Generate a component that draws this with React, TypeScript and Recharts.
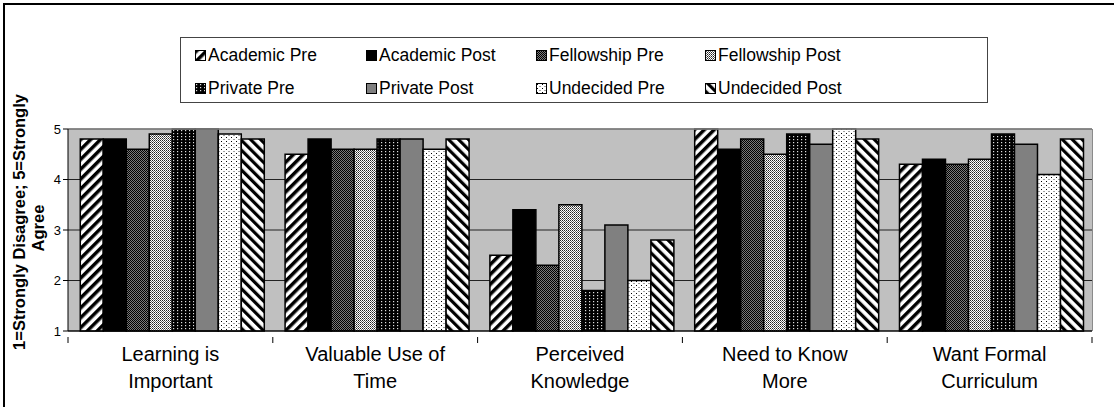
import React from "react";
import {
  BarChart,
  Bar,
  XAxis,
  YAxis,
  CartesianGrid,
  ReferenceLine,
} from "recharts";

const categories = [
  "Learning is|Important",
  "Valuable Use of|Time",
  "Perceived|Knowledge",
  "Need to Know|More",
  "Want Formal|Curriculum",
];
const seriesNames = [
  "Academic Pre",
  "Academic Post",
  "Fellowship Pre",
  "Fellowship Post",
  "Private Pre",
  "Private Post",
  "Undecided Pre",
  "Undecided Post",
];
const academicPre = [4.8, 4.5, 2.5, 5.0, 4.3];
const academicPost = [4.8, 4.8, 3.4, 4.6, 4.4];
const fellowshipPre = [4.6, 4.6, 2.3, 4.8, 4.3];
const fellowshipPost = [4.9, 4.6, 3.5, 4.5, 4.4];
const privatePre = [5.0, 4.8, 1.8, 4.9, 4.9];
const privatePost = [5.0, 4.8, 3.1, 4.7, 4.7];
const undecidedPre = [4.9, 4.6, 2.0, 5.0, 4.1];
const undecidedPost = [4.8, 4.8, 2.8, 4.8, 4.8];
const yTicks = [1, 2, 3, 4, 5];

const seriesValues = [
  academicPre,
  academicPost,
  fellowshipPre,
  fellowshipPost,
  privatePre,
  privatePost,
  undecidedPre,
  undecidedPost,
];
const keys = ["s0", "s1", "s2", "s3", "s4", "s5", "s6", "s7"];
const fills = [
  "url(#pHatchFwd)",
  "#000000",
  "url(#pDarkCheck)",
  "url(#pLightCheck)",
  "url(#pBlackDots)",
  "#808080",
  "url(#pWhiteDots)",
  "url(#pHatchBack)",
];

const data = categories.map((c, i) => {
  const row: Record<string, any> = { name: c };
  keys.forEach((k, j) => {
    row[k] = seriesValues[j][i];
  });
  return row;
});

const FONT = "'Liberation Sans', Arial, sans-serif";

const Patterns = () => (
  <defs>
    <pattern id="pHatchFwd" width="7" height="7" patternUnits="userSpaceOnUse" patternTransform="rotate(45)">
      <rect width="7" height="7" fill="#fff" />
      <rect width="3.5" height="7" fill="#000" />
    </pattern>
    <pattern id="pHatchBack" width="7" height="7" patternUnits="userSpaceOnUse" patternTransform="rotate(-45)">
      <rect width="7" height="7" fill="#fff" />
      <rect width="3.2" height="7" fill="#000" />
    </pattern>
    <pattern id="pDarkCheck" width="2" height="2" patternUnits="userSpaceOnUse">
      <rect width="2" height="2" fill="#7a7a7a" />
      <rect x="0" y="0" width="1" height="1" fill="#000" />
      <rect x="1" y="1" width="1" height="1" fill="#000" />
    </pattern>
    <pattern id="pLightCheck" width="2" height="2" patternUnits="userSpaceOnUse">
      <rect width="2" height="2" fill="#ffffff" />
      <rect x="0" y="0" width="1" height="1" fill="#222" />
      <rect x="1" y="1" width="1" height="1" fill="#666" />
    </pattern>
    <pattern id="pBlackDots" width="4" height="3" patternUnits="userSpaceOnUse">
      <rect width="4" height="3" fill="#000" />
      <rect x="1" y="1" width="1.2" height="1.2" fill="#ddd" />
    </pattern>
    <pattern id="pWhiteDots" width="5" height="4" patternUnits="userSpaceOnUse">
      <rect width="5" height="4" fill="#fff" />
      <rect x="1" y="1" width="1" height="1" fill="#000" />
      <rect x="3.5" y="3" width="1" height="1" fill="#444" />
    </pattern>
  </defs>
);

const CategoryTick = (props: any) => {
  const { x, y, payload, index, visibleTicksCount, width } = props;
  const lines = String(payload.value).split("|");
  const n = visibleTicksCount || categories.length;
  const half = width / n / 2;
  const axisY = y - 2;
  return (
    <g>
      <line x1={x - half} x2={x - half} y1={axisY} y2={axisY + 6} stroke="#000" strokeWidth={1} />
      {index === n - 1 ? (
        <line x1={x + half} x2={x + half} y1={axisY} y2={axisY + 6} stroke="#000" strokeWidth={1} />
      ) : null}
      <text x={x} y={y} textAnchor="middle" fontFamily={FONT} fontSize={20} fill="#000">
        {lines.map((l, i) => (
          <tspan key={i} x={x} dy={i === 0 ? 22 : 27}>
            {l}
          </tspan>
        ))}
      </text>
    </g>
  );
};

const YTitle = (props: any) => {
  const vb = props.viewBox || {};
  const cy = vb.y + vb.height / 2 - 8;
  return (
    <g fontFamily={FONT} fontSize={16.5} fontWeight="bold" fill="#000">
      <text x={21} y={cy} textAnchor="middle" transform={`rotate(-90, 21, ${cy})`} dominantBaseline="middle">
        1=Strongly Disagree; 5=Strongly
      </text>
      <text x={40} y={cy + 6} textAnchor="middle" transform={`rotate(-90, 40, ${cy + 6})`} dominantBaseline="middle">
        Agree
      </text>
    </g>
  );
};

const LegendBox = () => (
  <div
    style={{
      position: "absolute",
      left: 180,
      top: 37,
      border: "1px solid #444",
      background: "#fff",
      boxSizing: "border-box",
      width: 808,
      height: 66,
      padding: "5px 0 0 14px",
      display: "grid",
      gridTemplateColumns: "171px 170px 169px 280px",
      rowGap: 7,
      fontFamily: FONT,
      fontSize: 17.5,
      color: "#000",
    }}
  >
    {seriesNames.map((n, i) => (
      <div key={n} style={{ display: "flex", alignItems: "center", height: 24, whiteSpace: "nowrap" }}>
        <svg width={11} height={11} style={{ marginRight: 2 }}>
          <rect x={0.5} y={0.5} width={10} height={10} fill={fills[i]} stroke="#000" strokeWidth={1} />
        </svg>
        {n}
      </div>
    ))}
  </div>
);

export default function App() {
  return (
    <div style={{ position: "absolute", left: 0, top: 0, width: 1114, height: 407, background: "#fff", overflow: "hidden" }}>
      <div
        style={{
          position: "absolute",
          left: 3,
          top: 3,
          width: 1120,
          height: 420,
          borderLeft: "2px solid #000",
          borderTop: "2px solid #000",
        }}
      />
      <div style={{ position: "absolute", left: 0, top: 0 }}>
        <BarChart
          width={1114}
          height={407}
          data={data}
          margin={{ top: 129, right: 22, bottom: 10, left: 22 }}
          barCategoryGap="6%"
          barGap={0}
        >
          <Patterns />
          <CartesianGrid vertical={false} fill="#c0c0c0" stroke="#222" strokeWidth={1} fillOpacity={1} />
          <XAxis
            dataKey="name"
            tick={<CategoryTick />}
            tickLine={false}
            axisLine={{ stroke: "#000", strokeWidth: 1 }}
            interval={0}
            height={66}
          />
          <YAxis
            domain={[1, 5]}
            ticks={yTicks}
            width={46}
            axisLine={{ stroke: "#000" }}
            tickLine={{ stroke: "#000" }}
            tickSize={5}
            tick={{ fontFamily: FONT, fontSize: 13, fill: "#000" }}
            label={<YTitle />}
          />
          <ReferenceLine y={5} stroke="#8a8a8a" strokeWidth={1.5} />
          {keys.map((k, i) => (
            <Bar
              key={k}
              dataKey={k}
              name={seriesNames[i]}
              fill={fills[i]}
              stroke="#000"
              strokeWidth={1.5}
              isAnimationActive={false}
            />
          ))}
        </BarChart>
      </div>
      <div
        style={{
          position: "absolute",
          left: 1092,
          top: 129,
          width: 0,
          height: 202,
          borderLeft: "1.5px solid #8a8a8a",
        }}
      />
      <LegendBox />
    </div>
  );
}
